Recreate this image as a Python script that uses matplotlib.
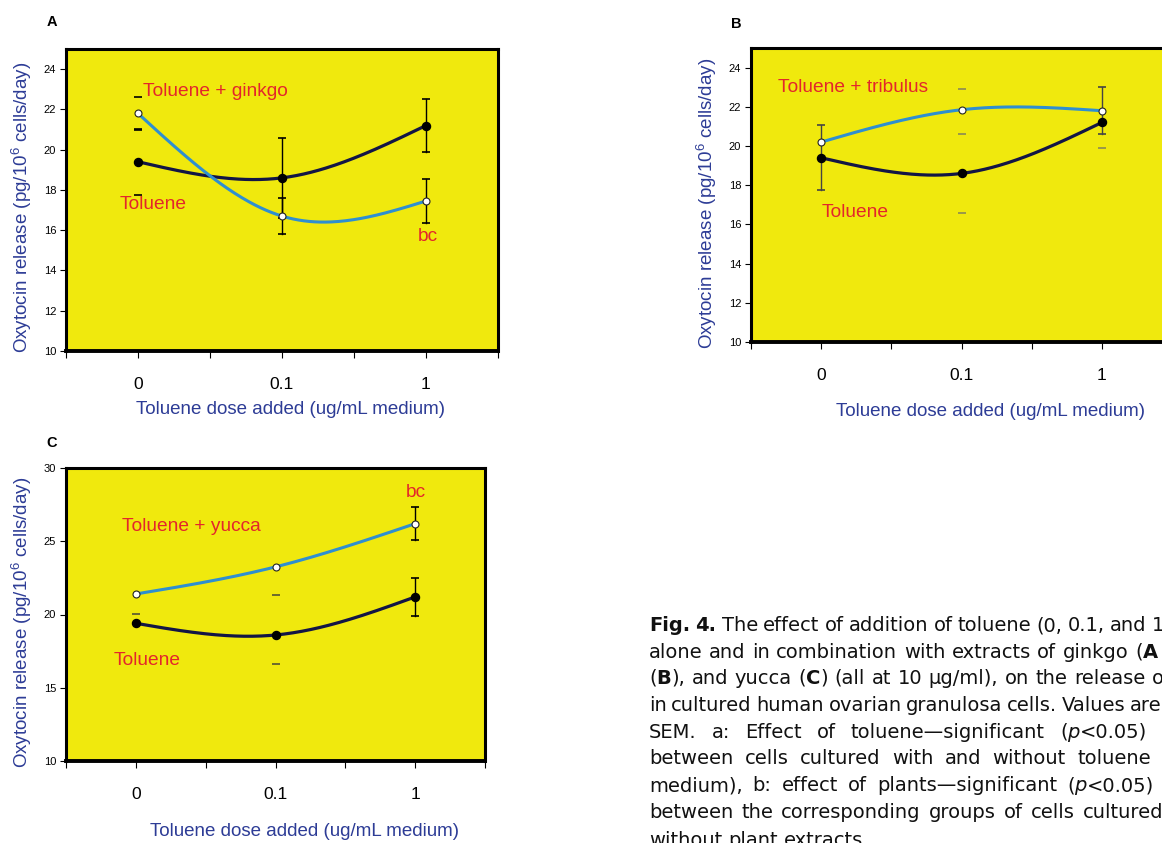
import re
import numpy as np
import matplotlib
matplotlib.use('Agg')
import matplotlib.pyplot as plt

plt.rcParams['font.family'] = 'Liberation Sans'
plt.rcParams['mathtext.fontset'] = 'custom'
plt.rcParams['mathtext.rm'] = 'Liberation Sans'

# data (oxytocin release, pg/10^6 cells/day)
doses = ['0', '0.1', '1']
toluene = [19.4, 18.6, 21.2]
toluene_sem = [1.65, 2.0, 1.3]
ginkgo = [21.8, 16.7, 17.45]
ginkgo_sem = [0.8, 0.9, 1.08]
tribulus = [20.2, 21.85, 21.8]
tribulus_sem = [0.8, 1.07, 1.2]
yucca = [21.4, 23.25, 26.2]
yucca_sem = [1.35, 1.9, 1.14]

W, H = 1162, 843
YELLOW = '#f0e90d'
DARK = '#131545'
BLUE = '#2f8fd0'
RED = '#e3262b'
LABEL_BLUE = '#2d3c96'

fig = plt.figure(figsize=(W / 100, H / 100), dpi=100)


def px(x, y):
    return x / W, 1 - y / H


def natural_spline(y, n=80):
    # natural cubic spline through the three points (like SigmaPlot's spline curve)
    y = np.asarray(y, float)
    M = [0.0, 1.5 * (y[0] - 2 * y[1] + y[2]), 0.0]
    xs, ys = [], []
    for i in range(2):
        t = np.linspace(0, 1, n)
        s = (M[i] * (1 - t) ** 3 + M[i + 1] * t ** 3) / 6 \
            + (y[i] - M[i] / 6) * (1 - t) + (y[i + 1] - M[i + 1] / 6) * t
        xs.append(i + t)
        ys.append(s)
    return np.concatenate(xs) + 0.5, np.concatenate(ys)


def draw_err(ax, y, e, mask, color='black', cap_color='black'):
    for i, (v, d, m) in enumerate(zip(y, e, mask)):
        x = i + 0.5
        c = color if m == 'full' else cap_color
        if m == 'full':
            ax.plot([x, x], [v - d, v + d], color=color, lw=1, zorder=2)
        if m in ('full', 'both', 'hi'):
            ax.plot(x, v + d, marker='_', ms=5.5, mew=1.2, color=c, zorder=2)
        if m in ('full', 'both', 'lo'):
            ax.plot(x, v - d, marker='_', ms=5.5, mew=1.2, color=c, zorder=2)


panels = [
    dict(box=(66, 49, 498, 351), plant=ginkgo, plant_sem=ginkgo_sem,
         tol_mask=['both', 'full', 'full'], plant_mask=['both', 'full', 'full'],
         err_color='black', cap_color='black',
         ylim=(10, 25), yticks=range(10, 25, 2), letter='A', letter_xy=(52, 22),
         ylab_xy=(22, 207), xlab_xy=(291, 410),
         notes=[('Toluene + ginkgo', 0.535, 22.9), ('Toluene', 0.37, 17.3), ('bc', 2.44, 15.7)]),
    dict(box=(751, 48, 1172, 342), plant=tribulus, plant_sem=tribulus_sem,
         tol_mask=['full', 'both', 'lo'], plant_mask=['', 'hi', 'full'],
         err_color='#444444', cap_color='#8a8a55',
         ylim=(10, 25), yticks=range(10, 25, 2), letter='B', letter_xy=(736, 24),
         ylab_xy=(707, 203), xlab_xy=(991, 412),
         notes=[('Toluene + tribulus', 0.19, 22.96), ('Toluene', 0.5, 16.63)]),
    dict(box=(66, 468, 485, 761), plant=yucca, plant_sem=yucca_sem,
         tol_mask=['', 'lo', 'full'], plant_mask=['lo', 'lo', 'full'],
         err_color='black', cap_color='#555533',
         ylim=(10, 30), yticks=range(10, 31, 5), letter='C', letter_xy=(52, 443),
         ylab_xy=(22, 622), xlab_xy=(304, 832),
         notes=[('Toluene + yucca', 0.40, 26.04), ('Toluene', 0.34, 16.83), ('bc', 2.43, 28.36)]),
]

for p in panels:
    x0, y0, x1, y1 = p['box']
    ax = fig.add_axes([x0 / W, 1 - y1 / H, (x1 - x0) / W, (y1 - y0) / H])
    ax.set_facecolor(YELLOW)
    for side in ax.spines:
        ax.spines[side].set_linewidth(2.2)
        ax.spines[side].set_color('black')
    ax.spines['bottom'].set_linewidth(2.8)
    ax.set_xlim(0, 3)
    ax.set_ylim(*p['ylim'])
    ax.set_yticks(list(p['yticks']))
    ax.tick_params(axis='y', labelsize=8, length=4, width=0.8, pad=3)
    ax.set_xticks([0.5, 1.5, 2.5])
    ax.set_xticklabels(doses, fontsize=12.5)
    ax.set_xticks([0, 1, 2, 3], minor=True)
    ax.tick_params(axis='x', which='both', length=5, width=0.8, pad=14)

    xs, ys = natural_spline(toluene)
    ax.plot(xs, ys, color=DARK, lw=2.3, zorder=3, solid_capstyle='round')
    xs, ys = natural_spline(p['plant'])
    ax.plot(xs, ys, color=BLUE, lw=2.2, zorder=4, solid_capstyle='round')

    draw_err(ax, toluene, toluene_sem, p['tol_mask'], p['err_color'], p['cap_color'])
    draw_err(ax, p['plant'], p['plant_sem'], p['plant_mask'], p['err_color'], p['cap_color'])

    pos = np.arange(len(doses)) + 0.5
    ax.plot(pos, toluene, 'o', ms=5.8, color='black', zorder=5)
    ax.plot(pos, p['plant'], 'o', ms=5, mfc='white', mec='#222222', mew=0.8, zorder=6)

    for txt, tx, ty in p['notes']:
        ax.text(tx, ty, txt, color=RED, fontsize=13.8, ha='left', va='center')

    fig.text(*px(*p['letter_xy']), p['letter'], fontsize=10.5, fontweight='bold',
             ha='center', va='center')
    fig.text(*px(*p['ylab_xy']), 'Oxytocin release (pg/10$^6$ cells/day)',
             rotation=90, fontsize=13.5, color=LABEL_BLUE, ha='center', va='center')
    fig.text(*px(*p['xlab_xy']), 'Toluene dose added (ug/mL medium)',
             fontsize=13.5, color=LABEL_BLUE, ha='center', va='center')

# caption, justified like the journal page (runs off the right edge)
CAP_FS = 14
caption = [
    ('**Fig.** **4.** The effect of addition of toluene (0, 0.1, and 1', 1152),
    ('alone and in combination with extracts of ginkgo (**A**', 1135),
    ('(**B**), and yucca (**C**) (all at 10 \u00b5g/ml), on the release of', 1152),
    ('in cultured human ovarian granulosa cells. Values are', 1130),
    ('SEM. a: Effect of toluene\u2014significant (*p*<0.05)', 1060),
    ('between cells cultured with and without toluene', 1077),
    ('medium), b: effect of plants\u2014significant (*p*<0.05)', 1067),
    ('between the corresponding groups of cells cultured', 1083),
    ('without plant extracts.', None),
]
baselines = [631, 657.5, 684, 711, 738, 764, 791, 818, 846]


def segments(word):
    out = []
    for part in re.split(r'(\*\*.+?\*\*|\*.+?\*)', word):
        if not part:
            continue
        if part.startswith('**'):
            out.append((part[2:-2], 'bold', 'normal'))
        elif part.startswith('*'):
            out.append((part[1:-1], 'normal', 'italic'))
        else:
            out.append((part, 'normal', 'normal'))
    return out


renderer = fig.canvas.get_renderer()
space = CAP_FS * 100 / 72 * 0.318
for (line, x_last), yb in zip(caption, baselines):
    words = line.split(' ')
    objs = []
    for w in words:
        ts = [fig.text(0, 0, s, fontsize=CAP_FS, fontweight=wt, fontstyle=st,
                       family='DejaVu Sans', ha='left', va='baseline', color='#111111')
              for s, wt, st in segments(w)]
        objs.append(ts)
    widths = [[t.get_window_extent(renderer).width for t in ts] for ts in objs]
    totals = [sum(w) for w in widths]
    x = 649
    if x_last is None:
        gap = space
    else:
        gap = (x_last - x - sum(totals[:-1])) / (len(words) - 1)
    for ts, ws in zip(objs, widths):
        xx = x
        for t, w in zip(ts, ws):
            t.set_position(px(xx, yb))
            xx += w
        x = xx + gap

fig.savefig('out.png', dpi=100)
